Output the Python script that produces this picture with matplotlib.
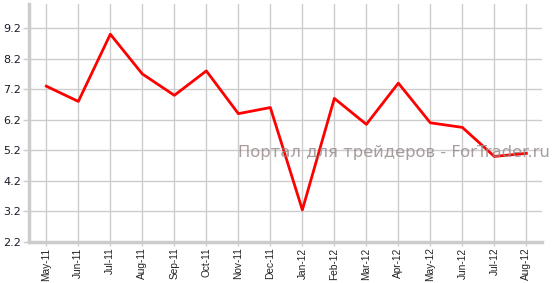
import matplotlib.pyplot as plt

months = ['May-11', 'Jun-11', 'Jul-11', 'Aug-11', 'Sep-11', 'Oct-11', 'Nov-11', 'Dec-11',
          'Jan-12', 'Feb-12', 'Mar-12', 'Apr-12', 'May-12', 'Jun-12', 'Jul-12', 'Aug-12']
values = [7.3, 6.8, 9.0, 7.7, 7.0, 7.8, 6.4, 6.6,
          3.25, 6.9, 6.05, 7.4, 6.1, 5.95, 5.0, 5.1]
yticks = [2.2, 3.2, 4.2, 5.2, 6.2, 7.2, 8.2, 9.2]

fig = plt.figure(figsize=(5.54, 2.83), dpi=100)
ax = fig.add_axes([0.053, 0.145, 0.926, 0.842])

x = list(range(len(months)))
ax.plot(x, values, color='#ff0000', linewidth=2, zorder=3)

ax.set_xlim(-0.53, 15.5)
ax.set_ylim(2.2, 10.0)
ax.set_xticks(x)
ax.set_xticklabels(months, rotation=90, fontsize=7.3, color='#222222',
                   family='Liberation Sans')
ax.set_yticks(yticks)
ax.set_yticklabels([f'{t:.1f}' for t in yticks], fontsize=8, color='#1a1a2a')

ax.grid(True, color='#cccccc', linewidth=1, zorder=0)
ax.set_axisbelow(True)
for side in ['top', 'right']:
    ax.spines[side].set_visible(False)
for side in ['left', 'bottom']:
    ax.spines[side].set_color('#cccccc')
    ax.spines[side].set_linewidth(2.5)
ax.tick_params(axis='y', length=4, width=1, color='#cccccc', pad=2)
ax.tick_params(axis='x', length=3, width=1, color='#cccccc', pad=1)

# водяной знак
fig.text(238 / 554, 1 - 152 / 283, 'Портал для трейдеров - ForTrader.ru',
         ha='left', va='center', fontsize=11.8, color='#9a8c8c', alpha=0.85, zorder=5)

fig.savefig('out.png', dpi=100)
